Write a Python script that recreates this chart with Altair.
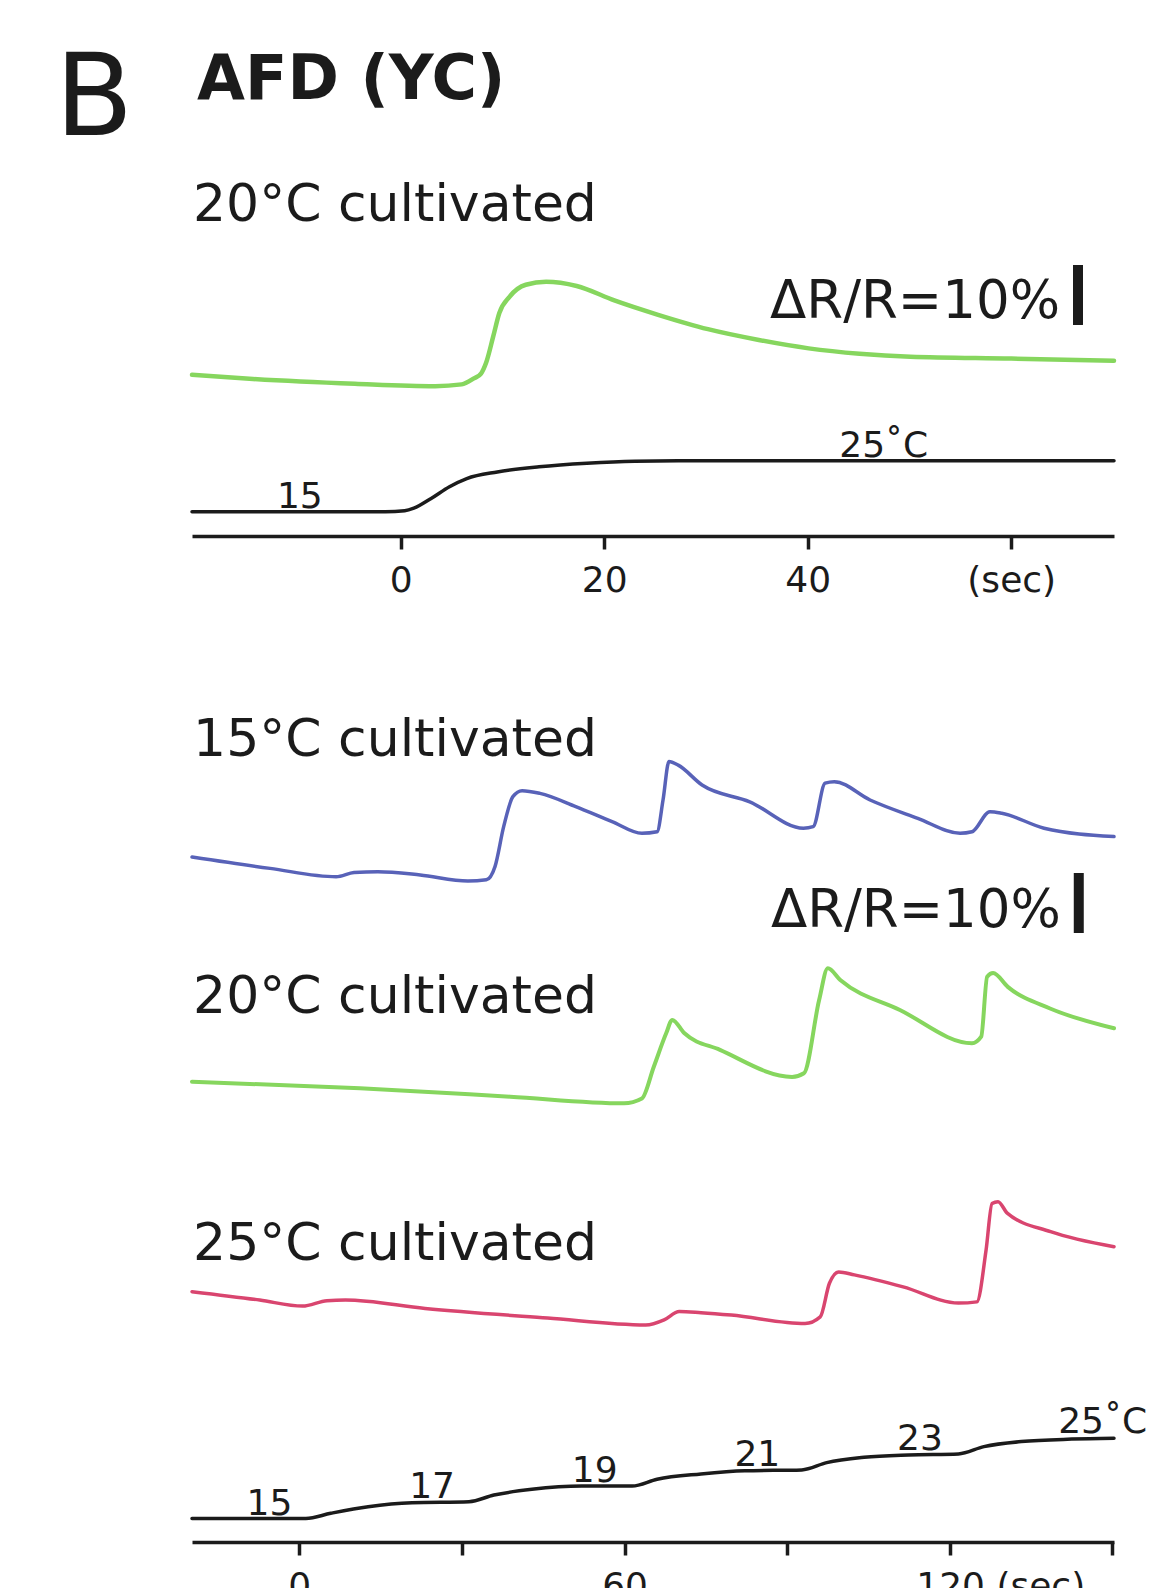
import altair as alt
import pandas as pd

# ---------------- data ----------------
# Top panel: 20°C cultivated, single warming step 15 -> 25 °C (time in s, ΔR/R in %)
top_green_t = [-20.5, -14.5, -4.5, 3.4, 6.0, 7.2, 7.9, 8.4, 9.1, 9.7, 10.7, 12.3, 14.3,
               17.3, 21.0, 25.3, 30.2, 35.2, 40.1, 45.1, 50.1, 60.0, 70.1]
top_green_dr = [0, -0.7, -1.5, -1.9, -1.6, -0.6, 0.2, 2.0, 6.4, 10.3, 13.0, 15.0, 15.5,
                14.8, 12.4, 10.0, 7.6, 5.8, 4.4, 3.5, 3.0, 2.7, 2.35]
top_temp_t = [-20.5, -1.5, 0.4, 1.3, 3.0, 4.8, 6.5, 9.5, 13.6, 18.3, 23.0, 28.3, 70.1]
top_temp_c = [15, 15, 15.2, 15.7, 17.6, 19.9, 21.5, 22.8, 23.8, 24.5, 24.9, 25.0, 25.0]
top_ticks = [0, 20, 40, 60]

# Bottom panel: stepwise warming 15 -> 25 °C, three cultivation temperatures
blue_t = [-19.8, -5.4, 6.8, 10.1, 14.5, 22.3, 31.1, 34.5, 36.1, 37.7, 39.4, 41.1, 44.4,
          51.0, 57.7, 63.2, 66.0, 67.1, 68.2, 69.9, 74.3, 83.1, 93.0, 94.8, 97.0, 98.7,
          105.3, 114.1, 121.9, 124.1, 127.4, 129.6, 137.4, 150.3]
blue_dr = [0, -1.9, -3.3, -2.6, -2.45, -3.0, -4.0, -3.8, -1.6, 5.05, 10.05, 11.05, 10.6,
           8.4, 5.9, 3.95, 4.2, 9.5, 15.9, 15.3, 12.0, 9.2, 4.8, 5.05, 12.3, 12.55,
           9.5, 6.45, 3.95, 4.2, 7.55, 7.3, 4.8, 3.4]
green_t = [-19.8, 11.2, 38.9, 59.9, 63.2, 65.4, 67.7, 68.8, 71.0, 77.6, 90.9, 93.1, 95.9,
           97.5, 99.8, 110.8, 124.1, 125.8, 126.9, 128.0, 130.7, 138.5, 150.3]
green_dr = [0, -1.1, -2.5, -3.6, -2.8, 2.5, 8.1, 10.3, 8.1, 5.3, 0.8, 1.4, 13.6,
            18.9, 16.95, 11.95, 6.4, 7.5, 17.5, 18.1, 15.8, 12.2, 8.9]
red_t = [-19.8, -7.3, 0.6, 5.1, 8.5, 23.2, 45.8, 63.9, 67.3, 70.1, 74.1, 79.7, 93.3, 96.1,
         97.8, 99.5, 102.4, 111.4, 121.6, 125.0, 126.7, 127.8, 128.9, 130.6, 138.6, 150.3]
red_dr = [0, -1.4, -2.4, -1.5, -1.4, -2.8, -4.4, -5.55, -4.7, -3.3, -3.5, -3.9, -5.3, -4.2,
          1.4, 3.3, 2.8, 0.8, -1.9, -1.7, 6.95, 14.7, 15.0, 13.1, 10.0, 7.5]
step_t = [-19.8, 1.2, 5.8, 12.7, 20.8, 31.3, 35.9, 42.9, 52.1, 61.4, 66.0, 74.1, 82.2, 92.7,
          97.3, 104.2, 112.4, 121.6, 126.3, 133.2, 142.5, 150.3]
step_c = [15, 15, 15.64, 16.46, 16.95, 17.07, 17.9, 18.6, 19.0, 19.0, 19.84, 20.5, 20.9, 21.0,
          21.9, 22.55, 22.84, 22.96, 23.87, 24.5, 24.8, 24.9]
step_label_t = [-5.5, 24.5, 54.5, 84.5, 114.5]
step_label_c = [15, 17, 19, 21, 23]
bottom_ticks = [0, 30, 60, 90, 120, 150]

# vertical stacking offset of each trace (in % ΔR/R units)
trace_offset = {"15°C": 114.17, "20°C": 76.72, "25°C": 41.72}
scale_bar_pct = 10

# ---------------- styling / layout ----------------
FONT = "DejaVu Sans"
INK = "#1b1b1b"
GREEN = "#86d65e"
BLUE = "#5862b8"
RED = "#d9456f"
W = 922
H_TOP = 528
H_BOT = 892
TOP_X = [-20.5, 70.1]
BOT_X = [-19.8, 150.3]
TOP_F = [-26.87, 61.13]      # ΔR/R % domain, top panel
TOP_C = [10.235, 113.765]    # °C domain, top panel
BOT_F = [0.0, 148.667]
BOT_C = [12.099, 122.22]


def xenc(domain, ticks, label_expr, **extra):
    return alt.X(
        "t:Q",
        scale=alt.Scale(domain=domain, nice=False, zero=False),
        axis=alt.Axis(values=ticks, labelExpr=label_expr, title=None, grid=False,
                      domainColor=INK, domainWidth=3.5, tickColor=INK, tickWidth=3.5,
                      tickSize=13, labelFont=FONT, labelFontSize=36, labelColor=INK,
                      labelPadding=14, labelFlush=False, labelOverlap=False, **extra),
    )


def yenc(field, domain):
    return alt.Y(field, scale=alt.Scale(domain=domain, nice=False, zero=False), axis=None)


def line(t, vals, color, x, dom, width=3.5, field="v"):
    df = pd.DataFrame({"t": t, field: vals})
    return alt.Chart(df).mark_line(color=color, strokeWidth=width, interpolate="monotone",
                                   strokeCap="round", strokeJoin="round").encode(
        x=x, y=yenc(f"{field}:Q", dom))


def texts(rows, x, dom, field="v", **mk):
    df = pd.DataFrame(rows, columns=["t", field, "label"])
    return alt.Chart(df).mark_text(font=FONT, color=INK, baseline="alphabetic", **mk).encode(
        x=x, y=yenc(f"{field}:Q", dom), text="label:N")


def bar(t, v0, x, dom):
    df = pd.DataFrame({"t": [t], "v": [v0], "v2": [v0 + scale_bar_pct]})
    return alt.Chart(df).mark_rule(color=INK, strokeWidth=10).encode(
        x=x, y=yenc("v:Q", dom), y2="v2:Q")


# ---------------- top panel ----------------
xt = xenc(TOP_X, top_ticks, "datum.value == 60 ? '(sec)' : datum.label")
top = alt.layer(
    line(top_green_t, top_green_dr, GREEN, xt, TOP_F, width=4.5),
    line(top_temp_t, top_temp_c, INK, xt, TOP_C, field="c"),
    texts([(-33.96, 39.97, "B")], xt, TOP_F, align="left", fontSize=114),
    texts([(-20.0, 45.97, "AFD (YC)")], xt, TOP_F, align="left", fontSize=62, fontWeight="bold"),
    texts([(-20.4, 25.63, "20°C cultivated")], xt, TOP_F, align="left", fontSize=52),
    texts([(64.8, 9.47, "ΔR/R=10%")], xt, TOP_F, align="right", fontSize=53),
    bar(66.56, 8.3, xt, TOP_F),
    texts([(-9.9, 15, "15")], xt, TOP_C, field="c", align="center", fontSize=36, dy=-4),
    texts([(43.1, 25, "25˚C")], xt, TOP_C, field="c", align="left", fontSize=36, dy=-4),
).resolve_scale(y="independent").properties(width=W, height=H_TOP)

# ---------------- bottom panel ----------------
xb = xenc(
    BOT_X, bottom_ticks,
    "datum.value == 120 ? '120 (sec)' : (datum.value % 60 == 0 ? datum.label : '')",
    labelAlign={"condition": {"test": "datum.value == 120", "value": "left"}, "value": "center"},
    labelOffset={"condition": {"test": "datum.value == 120", "value": -34}, "value": 0},
)
bottom = alt.layer(
    line(blue_t, [d + trace_offset["15°C"] for d in blue_dr], BLUE, xb, BOT_F),
    line(green_t, [d + trace_offset["20°C"] for d in green_dr], GREEN, xb, BOT_F, width=4),
    line(red_t, [d + trace_offset["25°C"] for d in red_dr], RED, xb, BOT_F),
    line(step_t, step_c, INK, xb, BOT_C, field="c"),
    texts([(-19.6, 131.0, "15°C cultivated"), (-19.6, 88.17, "20°C cultivated"),
           (-19.6, 47.0, "25°C cultivated")], xb, BOT_F, align="left", fontSize=52),
    texts([(140.5, 102.5, "ΔR/R=10%")], xb, BOT_F, align="right", fontSize=53),
    bar(143.8, 101.5, xb, BOT_F),
    texts(list(zip(step_label_t, step_label_c, [str(c) for c in step_label_c])),
          xb, BOT_C, field="c", align="center", fontSize=36, dy=-4),
    texts([(140.0, 25, "25˚C")], xb, BOT_C, field="c", align="left", fontSize=36, dy=-4),
).resolve_scale(y="independent").properties(width=W, height=H_BOT)

chart = alt.vconcat(top, bottom, spacing=114, bounds="flush").properties(
    padding={"left": 47, "top": 0, "right": 0, "bottom": 0},
    background="white",
).configure_view(strokeWidth=0)

chart.save("out.html", embed_options={"renderer": "svg", "actions": False})
